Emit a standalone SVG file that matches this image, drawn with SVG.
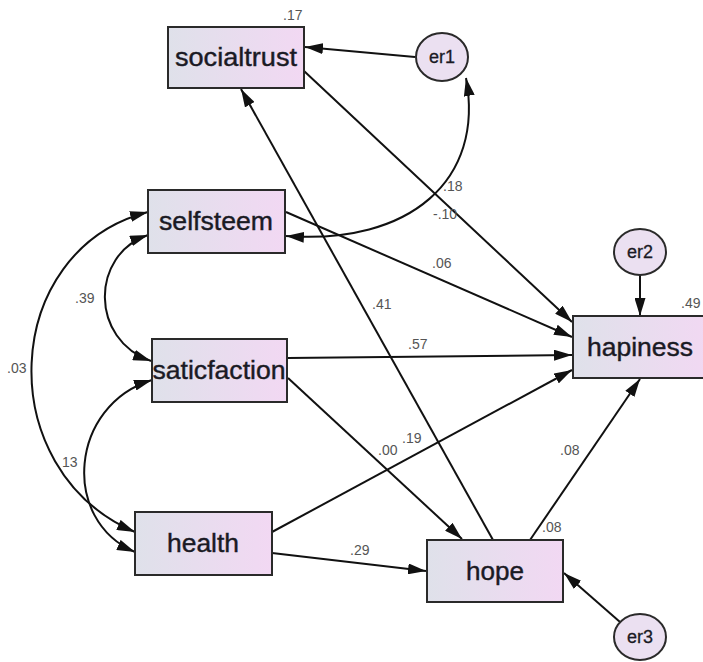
<svg xmlns="http://www.w3.org/2000/svg" width="703" height="662" viewBox="0 0 703 662">
<style>
.box{stroke:#2a2a2a;stroke-width:2;fill:url(#g)}
.ell{stroke:#2a2a2a;stroke-width:2;fill:#ebe0f1}
.lbl{font-family:"Liberation Sans",Arial,sans-serif;font-size:25px;fill:#1a1a24;stroke:#1a1a24;stroke-width:0.4;text-anchor:middle}
.el{font-family:"Liberation Sans",Arial,sans-serif;font-size:18px;fill:#1a1a24;stroke:#1a1a24;stroke-width:0.3;text-anchor:middle}
.num{font-family:"Liberation Sans",Arial,sans-serif;font-size:14px;fill:#555}
.c{fill:none;stroke:#111;stroke-width:2}
.a{marker-end:url(#ah)}
.b{marker-end:url(#ah);marker-start:url(#as)}
</style>
<defs>
<linearGradient id="g" x1="0" y1="0" x2="1" y2="0">
<stop offset="0" stop-color="#dfe1ea"/>
<stop offset="1" stop-color="#f2d8f3"/>
</linearGradient>
<marker id="ah" viewBox="0 0 18 11" refX="18" refY="5.5" markerWidth="18" markerHeight="11" markerUnits="userSpaceOnUse" orient="auto">
<path d="M0,0 L18,5.5 L0,11 z" fill="#111"/>
</marker>
<marker id="as" viewBox="0 0 18 11" refX="18" refY="5.5" markerWidth="18" markerHeight="11" markerUnits="userSpaceOnUse" orient="auto-start-reverse">
<path d="M0,0 L18,5.5 L0,11 z" fill="#111"/>
</marker>
</defs>
<rect width="703" height="662" fill="#fff"/>
<g id="connectors">
<path class="c a" d="M415,57 L305,47"/>
<path class="c b" d="M286,236 C410,245 485,180 466,78"/>
<path class="c a" d="M304,71 L572,322"/>
<path class="c a" d="M286,212 L572,337"/>
<path class="c a" d="M288,358 L572,355"/>
<path class="c a" d="M272,532 L572,370"/>
<path class="c a" d="M530,540 L640,379"/>
<path class="c a" d="M288,378 L462,539"/>
<path class="c a" d="M493,540 L241,89"/>
<path class="c a" d="M272,553 L426,571"/>
<path class="c a" d="M620,622 L564,573"/>
<path class="c a" d="M640,275 L640,316"/>
<path class="c b" d="M148,235 C90,255 90,340 151,361"/>
<path class="c b" d="M148,212 C0,250 -10,470 135,532"/>
<path class="c b" d="M152,380 C70,405 60,520 135,552"/>
</g>
<g id="labels">
<text class="num" x="283" y="20">.17</text>
<text class="num" x="443" y="191">.18</text>
<text class="num" x="433" y="219">-.10</text>
<text class="num" x="432" y="268">.06</text>
<text class="num" x="372" y="309">.41</text>
<text class="num" x="408" y="349">.57</text>
<text class="num" x="75" y="303">.39</text>
<text class="num" x="7" y="373">.03</text>
<text class="num" x="62" y="467">13</text>
<text class="num" x="378" y="455">.00</text>
<text class="num" x="402" y="443">.19</text>
<text class="num" x="560" y="455">.08</text>
<text class="num" x="542" y="532">.08</text>
<text class="num" x="350" y="555">.29</text>
<text class="num" x="681" y="308">.49</text>
</g>
<g id="socialtrust"><rect class="box" x="168" y="27" width="136" height="61"/><text class="lbl" x="236" y="66" textLength="122" lengthAdjust="spacingAndGlyphs">socialtrust</text></g>
<g id="selfsteem"><rect class="box" x="148" y="190" width="137" height="63"/><text class="lbl" x="216" y="230" textLength="114" lengthAdjust="spacingAndGlyphs">selfsteem</text></g>
<g id="saticfaction"><rect class="box" x="152" y="339" width="135" height="63"/><text class="lbl" x="219" y="379" textLength="133" lengthAdjust="spacingAndGlyphs">saticfaction</text></g>
<g id="health"><rect class="box" x="135" y="512" width="137" height="63"/><text class="lbl" x="203" y="552" textLength="72" lengthAdjust="spacingAndGlyphs">health</text></g>
<g id="hope"><rect class="box" x="427" y="540" width="136" height="62"/><text class="lbl" x="495" y="580" textLength="58" lengthAdjust="spacingAndGlyphs">hope</text></g>
<g id="hapiness"><rect class="box" x="573" y="316" width="140" height="62"/><text class="lbl" x="640" y="356" textLength="106" lengthAdjust="spacingAndGlyphs">hapiness</text></g>
<g id="er1"><ellipse class="ell" cx="442" cy="57" rx="26" ry="24"/><text class="el" x="442" y="63">er1</text></g>
<g id="er2"><ellipse class="ell" cx="640" cy="252" rx="26" ry="23"/><text class="el" x="640" y="258">er2</text></g>
<g id="er3"><ellipse class="ell" cx="640" cy="637" rx="26" ry="23"/><text class="el" x="640" y="643">er3</text></g>
</svg>
